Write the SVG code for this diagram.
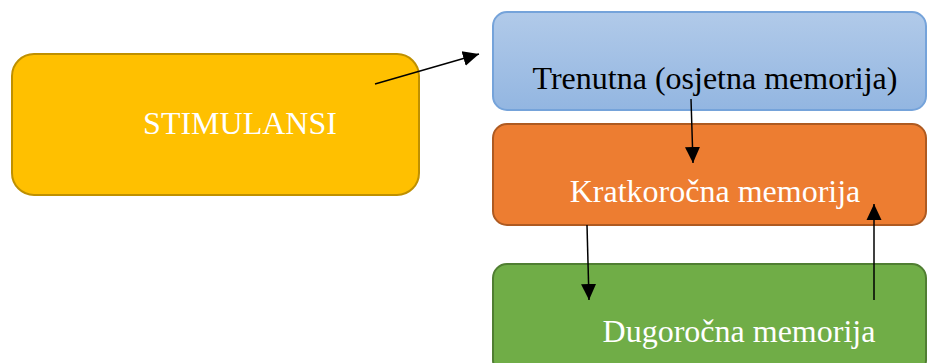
<svg xmlns="http://www.w3.org/2000/svg" width="927" height="363" viewBox="0 0 927 363">
<style>
.box{stroke-width:2}
.t{font-family:"Liberation Serif","Times New Roman",serif;font-size:32px}
.w{fill:#ffffff}
.k{fill:#000000}
.c{stroke:#000;stroke-width:1.5;fill:none;marker-end:url(#ah)}
</style>
<defs>
<linearGradient id="gb" x1="0" y1="0" x2="0" y2="1">
<stop offset="0" stop-color="#b1cae9"/>
<stop offset="1" stop-color="#93b6e1"/>
</linearGradient>
<marker id="ah" markerUnits="userSpaceOnUse" markerWidth="17" markerHeight="17" viewBox="0 0 17 17" refX="16" refY="8.5" orient="auto">
<path d="M0,1 L16,8.5 L0,16 Z" fill="#000"/>
</marker>
</defs>
<g id="stimulansi">
<rect class="box" x="12" y="54" width="407" height="141" rx="22" fill="#ffc000" stroke="#bf9000"/>
<text class="t w" x="240" y="134" text-anchor="middle">STIMULANSI</text>
</g>
<g id="trenutna">
<rect class="box" x="493" y="12" width="433" height="98" rx="14" fill="url(#gb)" stroke="#75a3da"/>
<text class="t k" x="715" y="89" text-anchor="middle">Trenutna (osjetna memorija)</text>
</g>
<g id="kratkorocna">
<rect class="box" x="493" y="124" width="433" height="101" rx="14" fill="#ed7d31" stroke="#ae5a21"/>
<text class="t w" x="715" y="202" text-anchor="middle">Kratkoročna memorija</text>
</g>
<g id="dugorocna">
<rect class="box" x="493" y="264" width="433" height="110" rx="14" fill="#70ad47" stroke="#507e32"/>
<text class="t w" x="739" y="342" text-anchor="middle">Dugoročna memorija</text>
</g>
<g id="connectors">
<line class="c" x1="375" y1="84" x2="479" y2="54"/>
<line class="c" x1="691" y1="99" x2="693" y2="163"/>
<line class="c" x1="587" y1="225" x2="589" y2="300"/>
<line class="c" x1="874" y1="300" x2="874" y2="204"/>
</g>
</svg>
